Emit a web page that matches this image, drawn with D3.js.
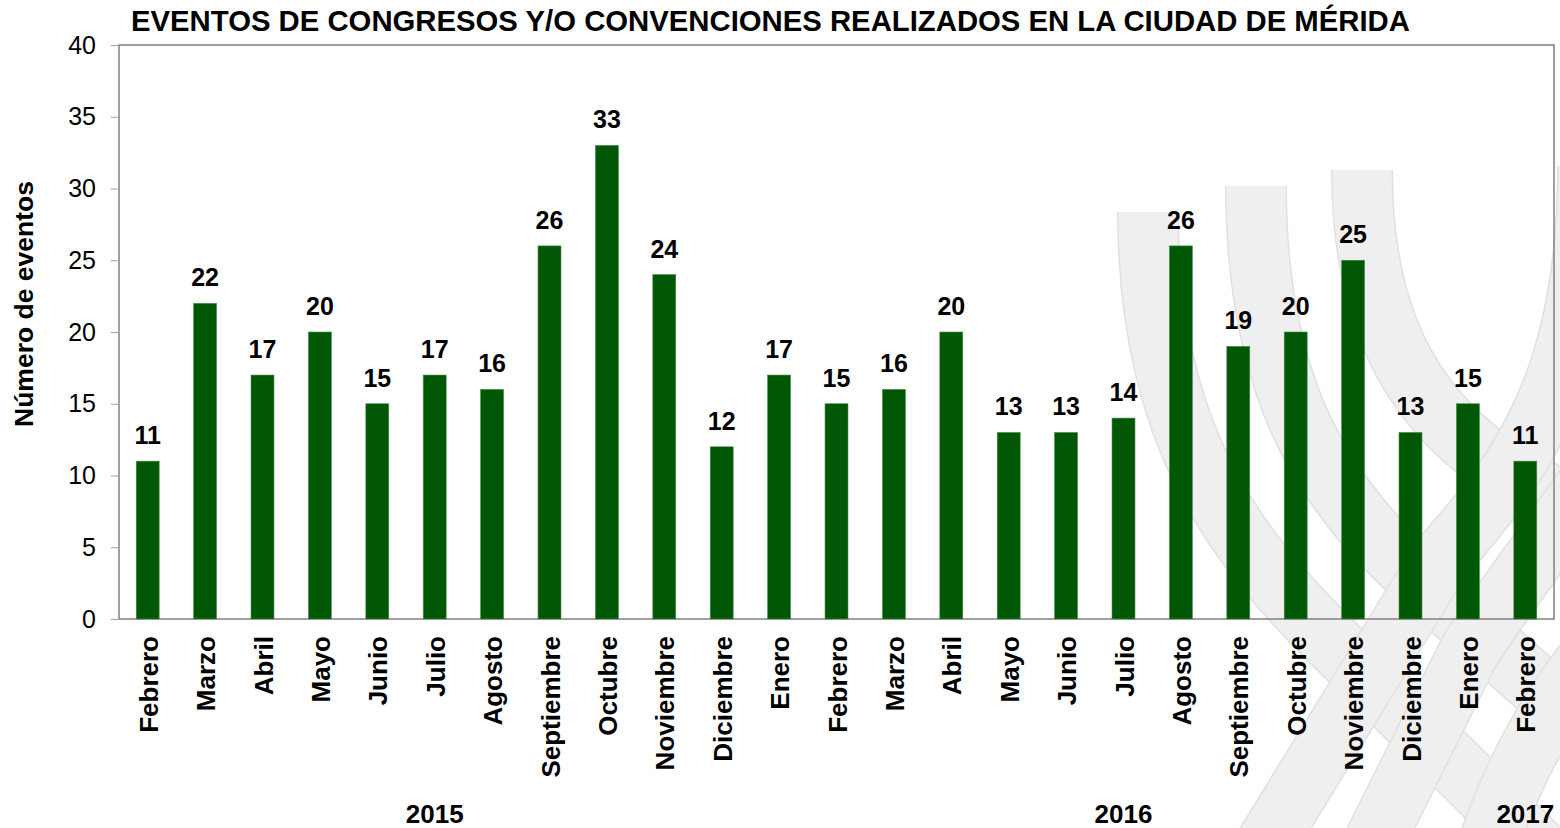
<!DOCTYPE html>
<html>
<head>
<meta charset="utf-8">
<script src="https://cdn.jsdelivr.net/npm/d3@7"></script>
<style>
  body { margin: 0; background: #fff; }
  text { font-family: "Liberation Sans", Arial, sans-serif; }
</style>
</head>
<body>
<div id="chart"></div>
<script>
// data
var months = ["Febrero", "Marzo", "Abril", "Mayo", "Junio", "Julio", "Agosto", "Septiembre", "Octubre", "Noviembre", "Diciembre",
    "Enero", "Febrero", "Marzo", "Abril", "Mayo", "Junio", "Julio", "Agosto", "Septiembre", "Octubre", "Noviembre", "Diciembre",
    "Enero", "Febrero"];
var eventos = [11, 22, 17, 20, 15, 17, 16, 26, 33, 24, 12, 17, 15, 16, 20, 13, 13, 14, 26, 19, 20, 25, 13, 15, 11];
var years = ["2015", "2016", "2017"];
var yearAt = [5, 17, 24];   // which month column each year label sits under
var yTicks = [0, 5, 10, 15, 20, 25, 30, 35, 40];

var width = 1560, height = 828;
var margin = {top: 45, right: 6, bottom: 209, left: 119};

var svg = d3.select('#chart').append('svg')
    .attr('width', width)
    .attr('height', height);

// watermark ribbons behind the chart
var wm = svg.append('g').attr('fill', 'none');
var ribbons = [
    "M1148,212 C1148,430 1230,540 1330,640 L1560,870",
    "M1256,186 C1256,400 1330,500 1430,590 L1620,760",
    "M1362,170 C1362,330 1420,420 1520,480 L1620,530",
    "M1588,166 C1588,380 1520,470 1440,560 L1250,870",
    "M1630,420 C1580,500 1530,560 1470,650 L1360,870",
    "M1640,600 C1580,660 1520,740 1480,870"
];
ribbons.forEach(function (p) {
    wm.append('path').attr('d', p).attr('stroke', '#e0e0e0').attr('stroke-width', 62);
    wm.append('path').attr('d', p).attr('stroke', '#efefef').attr('stroke-width', 59);
});

var g = svg.append('g')
    .attr('transform', 'translate(' + margin.left + ',' + margin.top + ')');

var w = width - margin.left - margin.right;
var h = height - margin.top - margin.bottom;

var x = d3.scaleBand()
    .domain(d3.range(months.length))
    .range([0, w])
    .paddingInner(0.6)
    .paddingOuter(0.3);

var y = d3.scaleLinear()
    .domain([0, 40])
    .range([h, 0]);

// frame
g.append('rect')
    .attr('width', w)
    .attr('height', h)
    .attr('fill', 'none')
    .attr('stroke', '#808080')
    .attr('stroke-width', 1.5);

var yAxis = g.append('g')
    .call(d3.axisLeft(y).tickValues(yTicks).tickSize(8).tickPadding(15));
yAxis.select('.domain').remove();
yAxis.selectAll('line').attr('stroke', '#a0a0a0');
yAxis.selectAll('text')
    .attr('font-size', 25)
    .attr('font-family', '"Liberation Sans", Arial, sans-serif')
    .attr('fill', '#000');

g.selectAll('rect.bar')
    .data(eventos)
    .enter().append('rect')
    .attr('class', 'bar')
    .attr('x', function (d, i) { return x(i); })
    .attr('y', function (d) { return y(d); })
    .attr('width', x.bandwidth())
    .attr('height', function (d) { return h - y(d); })
    .attr('fill', '#005705')
    .attr('stroke', '#4d8a4f')
    .attr('stroke-width', 0.6);

g.selectAll('text.val')
    .data(eventos)
    .enter().append('text')
    .attr('class', 'val')
    .attr('x', function (d, i) { return x(i) + x.bandwidth() / 2; })
    .attr('y', function (d) { return y(d) - 17; })
    .attr('text-anchor', 'middle')
    .attr('font-size', 25)
    .attr('font-weight', 'bold')
    .text(function (d) { return d; });

g.selectAll('text.month')
    .data(months)
    .enter().append('text')
    .attr('class', 'month')
    .attr('transform', function (d, i) {
        return 'translate(' + (x(i) + x.bandwidth() / 2 + 10) + ',' + (h + 17) + ')rotate(-90)';
    })
    .attr('text-anchor', 'end')
    .attr('font-size', 26)
    .attr('font-weight', 'bold')
    .text(function (d) { return d; });

g.selectAll('text.year')
    .data(years)
    .enter().append('text')
    .attr('class', 'year')
    .attr('x', function (d, i) { return x(yearAt[i]) + x.bandwidth() / 2; })
    .attr('y', h + 204)
    .attr('text-anchor', 'middle')
    .attr('font-size', 26)
    .attr('font-weight', 'bold')
    .text(function (d) { return d; });

svg.append('text')
    .attr('transform', 'translate(33,' + (margin.top + h / 2 - 28) + ')rotate(-90)')
    .attr('text-anchor', 'middle')
    .attr('font-size', 26.5)
    .attr('font-weight', 'bold')
    .text('Número de eventos');

svg.append('text')
    .attr('x', 131)
    .attr('y', 31)
    .attr('font-size', 29.3)
    .attr('font-weight', 'bold')
    .text('EVENTOS DE CONGRESOS Y/O CONVENCIONES REALIZADOS EN LA CIUDAD DE MÉRIDA');
</script>
</body>
</html>
